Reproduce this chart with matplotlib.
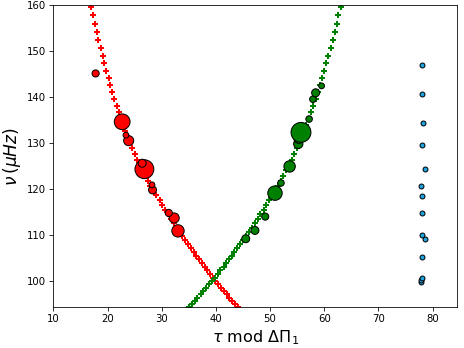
import numpy as np
import matplotlib
matplotlib.use("Agg")
import matplotlib.pyplot as plt

# model ridges (plus markers)
nu_model = [161.5, 159.6, 157.7, 155.9, 154.1, 152.3, 150.6, 148.9, 147.3, 145.7,
            144.1, 142.6, 141.0, 139.6, 138.1, 136.7, 135.3, 134.0, 132.7, 131.4,
            130.1, 128.8, 127.6, 126.4, 125.2, 124.1, 122.9, 121.8, 120.7, 119.6,
            118.6, 117.5, 116.5, 115.5, 114.5, 113.5, 112.6, 111.6, 110.7, 109.8,
            108.9, 108.0, 107.2, 106.3, 105.5, 104.7, 103.9, 103.1, 102.3, 101.5,
            100.7, 100.0, 99.3, 98.5, 97.8, 97.1, 96.4, 95.7, 95.0, 94.4, 93.7, 93.0]
tau_red = [16.5, 16.9, 17.3, 17.6, 18.0, 18.3, 18.7, 19.1, 19.4, 19.8,
           20.2, 20.5, 20.9, 21.2, 21.7, 22.1, 22.5, 22.9, 23.2, 23.6,
           24.0, 24.5, 25.0, 25.5, 26.0, 26.5, 27.0, 27.4, 27.9, 28.4,
           29.0, 29.6, 30.1, 30.6, 31.2, 31.7, 32.2, 32.7, 33.2, 33.7,
           34.3, 34.9, 35.4, 35.9, 36.4, 36.9, 37.4, 37.9, 38.4, 38.9,
           39.4, 39.9, 40.4, 41.0, 41.5, 42.0, 42.5, 43.0, 43.5, 44.0, 44.5, 45.0]
tau_green = [63.4, 63.0, 62.6, 62.3, 61.9, 61.6, 61.2, 60.7, 60.4, 60.0,
             59.6, 59.2, 58.8, 58.4, 57.9, 57.5, 57.1, 56.7, 56.3, 55.9,
             55.5, 55.0, 54.5, 54.0, 53.5, 53.0, 52.4, 52.0, 51.5, 51.0,
             50.4, 49.8, 49.3, 48.8, 48.2, 47.7, 47.2, 46.6, 46.1, 45.6,
             45.0, 44.4, 43.9, 43.4, 42.9, 42.4, 41.9, 41.4, 40.8, 40.3,
             39.8, 39.3, 38.8, 38.2, 37.7, 37.2, 36.6, 36.1, 35.6, 35.1, 34.6, 34.1]

# observed modes
red_tau = [33.0, 32.3, 31.3, 28.3, 28.2, 26.8, 26.4, 23.9, 23.4, 22.7, 17.8]
red_nu = [110.9, 113.7, 114.8, 119.8, 120.9, 124.3, 125.6, 130.5, 131.7, 134.6, 145.1]
red_s = [150, 100, 50, 63, 33, 350, 63, 100, 33, 245, 50]

green_tau = [45.5, 47.2, 49.1, 50.9, 52.0, 53.6, 55.2, 55.3, 55.7, 57.2, 57.9, 58.4, 59.5]
green_nu = [109.2, 111.0, 114.0, 119.1, 121.3, 124.9, 129.8, 131.0, 132.3, 135.2, 139.5, 140.9, 142.4]
green_s = [63, 63, 50, 205, 42, 128, 85, 100, 390, 42, 42, 63, 33]

blue_tau = [77.9, 77.9, 78.0, 78.1, 78.5, 78.0, 78.0, 78.1, 77.8, 78.6, 78.0, 78.3, 78.1, 78.0]
blue_nu = [99.9, 100.2, 100.7, 105.2, 109.1, 110.1, 114.8, 118.5, 120.6, 124.3, 129.6, 134.4, 140.65, 147.0]

fig = plt.figure(figsize=(6.4, 4.8), dpi=72.5)
ax = fig.add_axes([0.115, 0.117, 0.870, 0.869])

ax.plot(tau_red, nu_model, ls="none", marker="+", ms=5, mew=2, color="red", zorder=2)
ax.plot(tau_green, nu_model, ls="none", marker="+", ms=5, mew=2, color="green", zorder=2)

ax.scatter(red_tau, red_nu, s=red_s, c="red", edgecolors="black", linewidths=1, zorder=3)
ax.scatter(green_tau, green_nu, s=green_s, c="green", edgecolors="black", linewidths=1, zorder=3)
ax.scatter(blue_tau, blue_nu, s=24, c="#1aa3e0", edgecolors="black", linewidths=1, zorder=3)

ax.set_xlim(10, 84.5)
ax.set_ylim(94.3, 160)
ax.set_xticks(np.arange(10, 81, 10))
ax.set_yticks(np.arange(100, 161, 10))
ax.tick_params(labelsize=10)
ax.set_xlabel(r"$\tau$ mod $\Delta\Pi_1$", fontsize=16)
ax.set_ylabel(r"$\nu\,(\mu Hz)$", fontsize=17)

fig.savefig("out.png", dpi=72.5)
